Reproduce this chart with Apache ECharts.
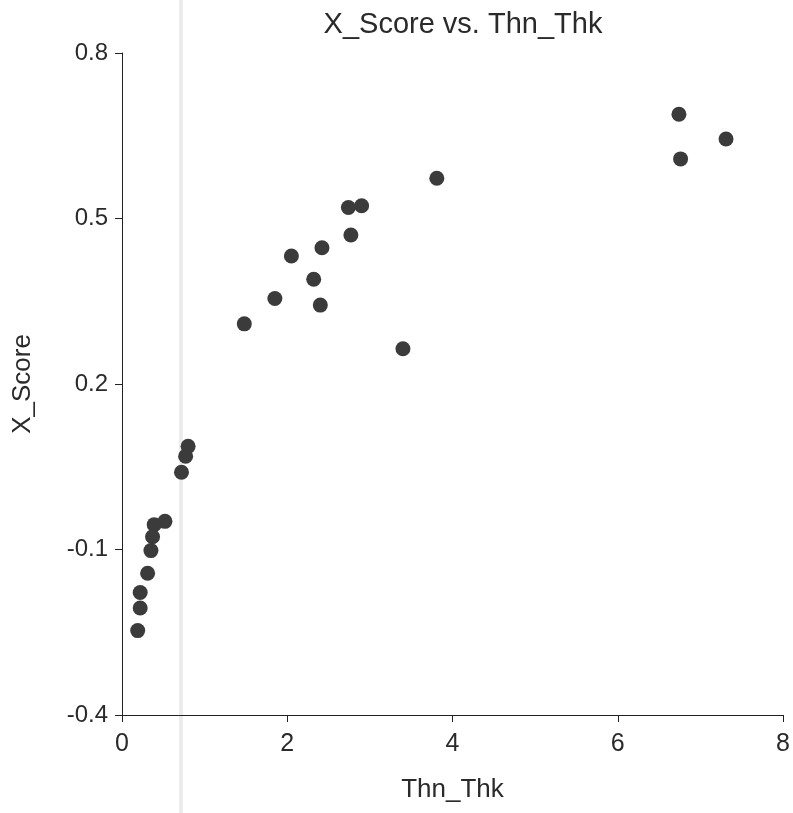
<!DOCTYPE html>
<html>
<head>
<meta charset="utf-8">
<script src="https://cdn.jsdelivr.net/npm/echarts@6/dist/echarts.min.js"></script>
<style>
html,body{margin:0;padding:0;background:#fff;}
#chart{width:793px;height:813px;}
</style>
</head>
<body>
<div id="chart"></div>
<script>
const titleText = 'X_Score vs. Thn_Thk';
const xName = 'Thn_Thk';
const yName = 'X_Score';
const xTicks = [0, 2, 4, 6, 8];
const yTicks = [-0.4, -0.1, 0.2, 0.5, 0.8];
const thnThk = [6.74, 7.31, 6.76, 3.81, 3.40, 2.74, 2.90, 2.77, 2.42, 2.05, 2.32, 1.85, 2.40, 1.48,
                0.80, 0.77, 0.72, 0.52, 0.39, 0.37, 0.35, 0.31, 0.22, 0.22, 0.19];
const xScore = [0.689, 0.644, 0.608, 0.573, 0.264, 0.520, 0.523, 0.470, 0.447, 0.432, 0.390, 0.355, 0.343, 0.309,
                0.087, 0.069, 0.040, -0.049, -0.055, -0.077, -0.102, -0.143, -0.178, -0.206, -0.247];

const points = thnThk.map((x, i) => [x, xScore[i]]);
const font = 'Liberation Sans, Arial, sans-serif';

const chart = echarts.init(document.getElementById('chart'));
chart.setOption({
  backgroundColor: '#fff',
  animation: false,
  title: {
    text: titleText,
    left: 458, top: 5, textAlign: 'center',
    textStyle: {fontFamily: font, fontSize: 29, fontWeight: 'normal', color: '#2a2a2a'}
  },
  grid: {left: 122, right: 8, top: 53, bottom: 98, containLabel: false},
  xAxis: {
    type: 'value', min: xTicks[0], max: xTicks[xTicks.length - 1], interval: 2,
    name: xName, nameLocation: 'middle', nameGap: 62,
    nameTextStyle: {fontFamily: font, fontSize: 26, color: '#2a2a2a'},
    axisLine: {show: true, onZero: false, lineStyle: {color: '#222', width: 1}},
    axisTick: {show: true, inside: false, length: 7, lineStyle: {color: '#222'}},
    axisLabel: {fontFamily: font, fontSize: 25, color: '#2a2a2a', margin: 17},
    splitLine: {show: false}
  },
  yAxis: {
    type: 'value', min: yTicks[0], max: yTicks[yTicks.length - 1], interval: 0.3,
    name: yName, nameLocation: 'middle', nameGap: 86, nameRotate: 90,
    nameTextStyle: {fontFamily: font, fontSize: 26, color: '#2a2a2a'},
    axisLine: {show: true, onZero: false, lineStyle: {color: '#222', width: 1}},
    axisTick: {show: true, inside: false, length: 7, lineStyle: {color: '#222'}},
    axisLabel: {fontFamily: font, fontSize: 24, color: '#2a2a2a', margin: 14,
      formatter: v => (Math.round(v * 10) / 10).toFixed(1)},
    splitLine: {show: false}
  },
  graphic: [{
    type: 'rect', left: 179, top: 0, z: -10,
    shape: {width: 4, height: 813},
    style: {fill: '#ececec'}
  }],
  series: [{
    type: 'scatter',
    data: points,
    symbol: 'circle',
    symbolSize: 15,
    itemStyle: {color: '#3b3b3b', opacity: 1}
  }]
});
</script>
</body>
</html>
